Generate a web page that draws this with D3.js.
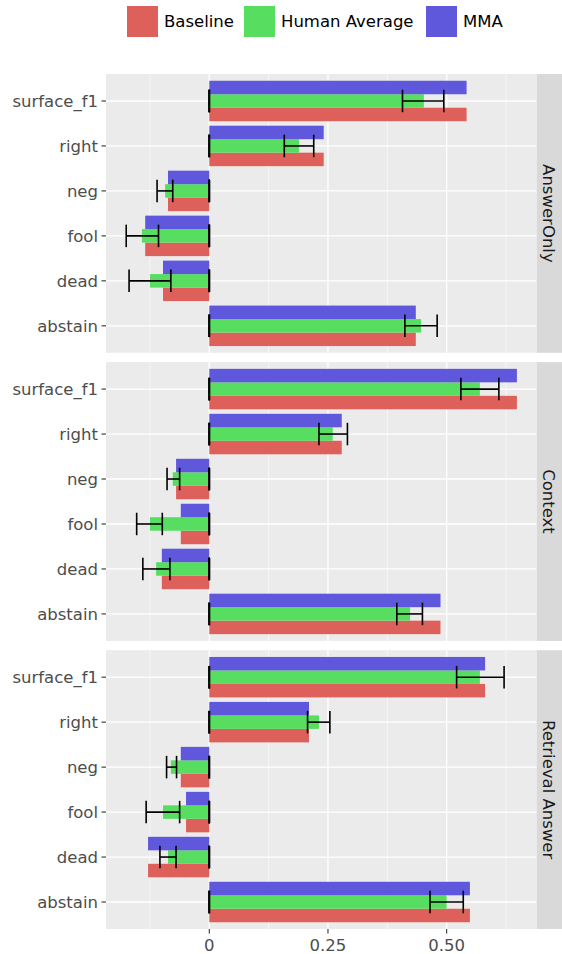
<!DOCTYPE html>
<html>
<head>
<meta charset="utf-8">
<script src="https://cdn.jsdelivr.net/npm/d3@7"></script>
<style>
  html, body { margin: 0; padding: 0; background: #fff; }
  svg { display: block; font-family: "DejaVu Sans", sans-serif; }
</style>
</head>
<body>
<svg id="chart" width="562" height="954"></svg>
<script>
// ---- data ----
const facets = ["AnswerOnly", "Context", "Retrieval Answer"];
const categories = ["surface_f1", "right", "neg", "fool", "dead", "abstain"];
const series = ["Baseline", "Human Average", "MMA"];
const seriesColors = ["#DE605A", "#57DD60", "#5F57DC"];
const xTickValues = [0, 0.25, 0.5];
const xTickLabels = ["0", "0.25", "0.50"];

// per facet, per category
const baseline = [
  [0.542, 0.241, -0.087, -0.135, -0.0975, 0.435],
  [0.648, 0.279, -0.070, -0.060, -0.100, 0.487],
  [0.581, 0.210, -0.060, -0.049, -0.129, 0.549]
];
const human = [
  [0.452, 0.189, -0.093, -0.142, -0.125, 0.446],
  [0.570, 0.260, -0.077, -0.125, -0.112, 0.423],
  [0.570, 0.231, -0.081, -0.0975, -0.087, 0.500]
];
const mma = [
  [0.542, 0.241, -0.087, -0.135, -0.0975, 0.435],
  [0.648, 0.279, -0.070, -0.060, -0.100, 0.487],
  [0.581, 0.210, -0.060, -0.049, -0.129, 0.549]
];
const humanLo = [
  [0.407, 0.158, -0.110, -0.175, -0.169, 0.412],
  [0.530, 0.231, -0.089, -0.153, -0.140, 0.395],
  [0.521, 0.207, -0.090, -0.133, -0.104, 0.465]
];
const humanHi = [
  [0.494, 0.220, -0.077, -0.107, -0.081, 0.480],
  [0.610, 0.291, -0.0625, -0.099, -0.083, 0.449],
  [0.621, 0.254, -0.069, -0.0625, -0.070, 0.535]
];
// baseline and MMA carry no spread: their error bars collapse onto 0
const zeroSpread = [0, 0, 0, 0, 0, 0];

// ---- layout ----
const svg = d3.select("#chart");
const panelLeft = 106, panelRight = 536.7;
const stripRight = 562;
const panelTop = 74, panelBottom = 929, gap = 9.3;
const panelH = (panelBottom - panelTop - 2 * gap) / 3;
const fontSize = 16.5;

const x = d3.scaleLinear().domain([-0.2176, 0.6897]).range([panelLeft, panelRight]);
const minorTicks = [-0.125, 0.125, 0.375, 0.625];

facets.forEach((facet, fi) => {
  const top = panelTop + fi * (panelH + gap);
  const y = d3.scalePoint().domain(categories).range([top, top + panelH]).padding(0.6);
  const step = y.step();
  const g = svg.append("g");

  // background
  g.append("rect").attr("x", panelLeft).attr("y", top)
    .attr("width", panelRight - panelLeft).attr("height", panelH).attr("fill", "#EBEBEB");

  // minor grid
  g.selectAll(".minor").data(minorTicks).join("line")
    .attr("x1", d => x(d)).attr("x2", d => x(d)).attr("y1", top).attr("y2", top + panelH)
    .attr("stroke", "#fff").attr("stroke-width", 0.6);
  // major grid
  g.selectAll(".majorx").data([-0.25, 0, 0.25, 0.5].filter(d => x(d) >= panelLeft)).join("line")
    .attr("x1", d => x(d)).attr("x2", d => x(d)).attr("y1", top).attr("y2", top + panelH)
    .attr("stroke", "#fff").attr("stroke-width", 1.3);
  g.selectAll(".majory").data(categories).join("line")
    .attr("x1", panelLeft).attr("x2", panelRight).attr("y1", d => y(d)).attr("y2", d => y(d))
    .attr("stroke", "#fff").attr("stroke-width", 1.3);

  // bars
  const barH = step * 0.9 / 3;
  const seriesValues = [baseline[fi], human[fi], mma[fi]];
  const offsets = [1, 0, -1]; // Baseline bottom, Human middle, MMA top
  seriesValues.forEach((vals, si) => {
    g.selectAll(".bar" + si).data(categories).join("rect")
      .attr("x", (d, i) => x(Math.min(0, vals[i])))
      .attr("width", (d, i) => Math.abs(x(vals[i]) - x(0)))
      .attr("y", d => y(d) + offsets[si] * barH - barH / 2)
      .attr("height", barH)
      .attr("fill", seriesColors[si]);
  });

  // error bars (not dodged)
  const ebW = step * 0.5;
  const errSets = [
    [zeroSpread, zeroSpread],
    [humanLo[fi], humanHi[fi]],
    [zeroSpread, zeroSpread]
  ];
  errSets.forEach(([lo, hi], si) => {
    const eg = g.append("g").attr("stroke", "#000").attr("stroke-width", 1.6).attr("fill", "none");
    categories.forEach((c, i) => {
      const cy = y(c);
      eg.append("line").attr("x1", x(lo[i])).attr("x2", x(hi[i])).attr("y1", cy).attr("y2", cy);
      eg.append("line").attr("x1", x(lo[i])).attr("x2", x(lo[i])).attr("y1", cy - ebW / 2).attr("y2", cy + ebW / 2);
      eg.append("line").attr("x1", x(hi[i])).attr("x2", x(hi[i])).attr("y1", cy - ebW / 2).attr("y2", cy + ebW / 2);
    });
  });

  // y axis
  g.selectAll(".ytick").data(categories).join("line")
    .attr("x1", panelLeft - 4.5).attr("x2", panelLeft).attr("y1", d => y(d)).attr("y2", d => y(d))
    .attr("stroke", "#333").attr("stroke-width", 1.1);
  g.selectAll(".ylab").data(categories).join("text")
    .attr("x", panelLeft - 8).attr("y", d => y(d)).attr("dy", "0.36em")
    .attr("text-anchor", "end").attr("font-size", fontSize).attr("fill", "#4D4D4D")
    .text(d => d);

  // strip
  g.append("rect").attr("x", panelRight).attr("y", top)
    .attr("width", stripRight - panelRight).attr("height", panelH).attr("fill", "#D9D9D9");
  const sx = (panelRight + stripRight) / 2, sy = top + panelH / 2;
  g.append("text").attr("transform", `translate(${sx},${sy}) rotate(90)`)
    .attr("text-anchor", "middle").attr("dy", "0.36em")
    .attr("font-size", fontSize).attr("fill", "#1A1A1A").text(facet);
});

// x axis (bottom)
const xa = svg.append("g");
xa.selectAll("line").data(xTickValues).join("line")
  .attr("x1", d => x(d)).attr("x2", d => x(d)).attr("y1", panelBottom).attr("y2", panelBottom + 4.5)
  .attr("stroke", "#333").attr("stroke-width", 1.1);
xa.selectAll("text").data(xTickValues).join("text")
  .attr("x", d => x(d)).attr("y", panelBottom + 16).attr("dy", "0.36em")
  .attr("text-anchor", "middle").attr("font-size", fontSize).attr("fill", "#4D4D4D")
  .text((d, i) => xTickLabels[i]);

// legend
const legendX = [127, 244, 426];
const lg = svg.append("g");
series.forEach((s, i) => {
  lg.append("rect").attr("x", legendX[i]).attr("y", 6).attr("width", 31).attr("height", 31)
    .attr("fill", seriesColors[i]);
  lg.append("text").attr("x", legendX[i] + 37).attr("y", 21.5).attr("dy", "0.36em")
    .attr("font-size", fontSize).attr("fill", "#000").text(s);
});
</script>
</body>
</html>
